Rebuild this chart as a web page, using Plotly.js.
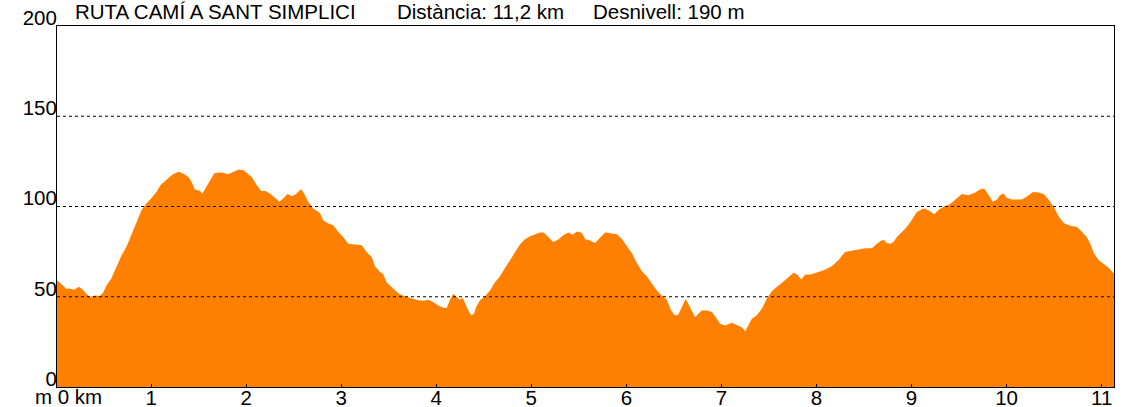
<!DOCTYPE html>
<html>
<head>
<meta charset="utf-8">
<script src="https://cdn.plot.ly/plotly-3.0.1.min.js"></script>
<style>html,body{margin:0;padding:0;background:#fff;}#chart{width:1142px;height:407px;}</style>
</head>
<body>
<div id="chart"></div>
<script>
// Distance along route (km)
const distKm = [0, 0.056, 0.109, 0.14, 0.19, 0.24, 0.27, 0.32, 0.355, 0.41, 0.46, 0.495, 0.53, 0.58, 0.635, 0.69, 0.74, 0.79, 0.846, 0.9, 0.95, 1.0, 1.056, 1.1, 1.18, 1.23, 1.29, 1.337, 1.39, 1.425, 1.46, 1.512, 1.54, 1.583, 1.62, 1.663, 1.705, 1.758, 1.81, 1.863, 1.915, 1.969, 2.0, 2.056, 2.11, 2.16, 2.197, 2.25, 2.3, 2.35, 2.39, 2.435, 2.484, 2.53, 2.576, 2.6, 2.653, 2.705, 2.776, 2.81, 2.864, 2.916, 2.97, 3.02, 3.074, 3.11, 3.16, 3.215, 3.267, 3.32, 3.355, 3.407, 3.44, 3.477, 3.53, 3.6, 3.67, 3.74, 3.81, 3.864, 3.916, 3.97, 4.02, 4.075, 4.11, 4.144, 4.18, 4.214, 4.25, 4.278, 4.3, 4.337, 4.37, 4.397, 4.42, 4.46, 4.51, 4.565, 4.618, 4.67, 4.72, 4.776, 4.83, 4.88, 4.934, 4.986, 5.04, 5.09, 5.13, 5.18, 5.23, 5.284, 5.336, 5.39, 5.435, 5.48, 5.53, 5.57, 5.607, 5.67, 5.7, 5.74, 5.776, 5.846, 5.9, 5.95, 6.0, 6.06, 6.11, 6.163, 6.215, 6.267, 6.32, 6.372, 6.425, 6.47, 6.512, 6.547, 6.583, 6.625, 6.66, 6.695, 6.723, 6.758, 6.793, 6.846, 6.9, 6.94, 6.986, 7.04, 7.11, 7.16, 7.215, 7.25, 7.284, 7.32, 7.37, 7.425, 7.477, 7.53, 7.582, 7.635, 7.688, 7.757, 7.793, 7.84, 7.88, 7.95, 8.02, 8.09, 8.16, 8.23, 8.3, 8.355, 8.425, 8.512, 8.583, 8.635, 8.688, 8.716, 8.74, 8.776, 8.81, 8.846, 8.9, 8.95, 9.0, 9.056, 9.11, 9.14, 9.196, 9.24, 9.284, 9.336, 9.4, 9.46, 9.53, 9.6, 9.67, 9.72, 9.765, 9.8, 9.856, 9.9, 9.93, 9.97, 10.0, 10.056, 10.11, 10.16, 10.21, 10.278, 10.337, 10.39, 10.44, 10.495, 10.55, 10.6, 10.67, 10.74, 10.794, 10.846, 10.88, 10.92, 10.97, 11.02, 11.074, 11.13];
// Elevation (m)
const elevM = [59.6, 57.2, 54.4, 54.6, 53.9, 55.6, 54.4, 51.7, 49.8, 50.7, 50.4, 52.2, 56.3, 60, 66.5, 73, 77.6, 84, 91.5, 98, 101.7, 104.4, 108.1, 111.9, 115.6, 117.8, 119.3, 118.3, 116.5, 113.7, 109.4, 108.7, 107.2, 110.9, 114.6, 118.3, 118.9, 118.7, 117.8, 119.3, 120.4, 120.2, 118.7, 116.5, 111.9, 108.5, 108.7, 107.2, 105, 102.6, 104.4, 106.9, 105.7, 107.2, 109.6, 108.1, 102.6, 98.9, 96.4, 92.4, 90.6, 89.6, 85.9, 83.1, 79.4, 79.1, 79.1, 78.5, 74.8, 72, 66.9, 63.7, 62.8, 58.1, 55.4, 52, 50.2, 49.3, 48, 47.8, 48.3, 47, 45.2, 43.9, 43.7, 48.3, 51.7, 49.8, 48.3, 49.4, 46.5, 42.4, 39.6, 40.6, 44.3, 48, 50.2, 53.5, 58.1, 61.3, 65.6, 70.2, 74.8, 78.9, 81.9, 83.5, 84.6, 85.6, 85.6, 83.1, 80.4, 81.7, 84.1, 85.6, 84.4, 86.1, 85.4, 81.7, 81.5, 79.8, 81.3, 83.5, 85.6, 85, 84.6, 82.2, 78.5, 73.9, 68.7, 64.1, 61.3, 57.2, 53.5, 50.7, 48.3, 42.4, 39.6, 40.2, 44.3, 48.9, 45.2, 41.5, 38.7, 40.6, 42.4, 42.4, 41.5, 38.7, 35, 34.1, 35.6, 34.4, 33.1, 30.9, 34.1, 37.8, 39.6, 43.3, 48.9, 53.1, 55.4, 57.6, 60, 63.3, 62.4, 59.6, 62.2, 62.4, 63.7, 65, 66.9, 70.2, 74.8, 75.4, 76.3, 76.9, 76.9, 79.4, 81.3, 81.3, 79.8, 79.3, 80.4, 83.1, 85.9, 88.7, 92.4, 97, 98.5, 98.9, 97.4, 95.7, 98, 99.8, 101.1, 103.9, 106.9, 106.3, 107.8, 109.4, 110, 107.2, 102.6, 103.9, 106.3, 107.2, 104.8, 103.9, 103.9, 103.9, 105.4, 108, 107.8, 106.9, 103.9, 99.8, 94.3, 90.9, 89.3, 88.7, 85.9, 82.8, 79.4, 73.9, 70.2, 68.3, 66.1, 62.8];
const xTickVals = [0, 1, 2, 3, 4, 5, 6, 7, 8, 9, 10, 11];
const xTickText = ['', '1', '2', '3', '4', '5', '6', '7', '8', '9', '10', '11'];
const yTickVals = [0, 50, 100, 150, 200];
const gridVals = [50, 100, 150];
const titleParts = ['RUTA CAMÍ A SANT SIMPLICI', 'Distància: 11,2 km', 'Desnivell: 190 m'];
const originLabel = 'm 0 km';

const FONT = 'Liberation Sans, Arial, sans-serif';
const FS = 20.5;

const trace = {
  x: distKm, y: elevM, type: 'scatter', mode: 'lines',
  fill: 'tozeroy', fillcolor: '#FF8000',
  line: {width: 0, color: '#FF8000'}, hoverinfo: 'skip'
};

const shapes = gridVals.map(v => ({
  type: 'line', xref: 'paper', x0: 0, x1: 1, yref: 'y', y0: v, y1: v,
  line: {color: '#000', width: 1, dash: '3px,3px'}, layer: 'above'
}));

const titleX = [73, 395, 591];
const annotations = titleParts.map((t, i) => ({
  text: t, xref: 'paper', x: (titleX[i] - 57) / 1057, xanchor: 'left',
  yref: 'paper', y: 1, yanchor: 'bottom', yshift: 1, showarrow: false,
  font: {family: FONT, size: FS, color: '#000'}
}));
annotations.push({
  text: originLabel, xref: 'paper', x: 0, xanchor: 'left', xshift: -24,
  yref: 'paper', y: 0, yanchor: 'top', yshift: 4, showarrow: false,
  font: {family: FONT, size: FS, color: '#000'}
});

const layout = {
  width: 1142, height: 407,
  margin: {l: 57, r: 28, t: 26, b: 20, pad: 0},
  paper_bgcolor: '#fff', plot_bgcolor: '#fff',
  showlegend: false,
  font: {family: FONT, size: FS, color: '#000'},
  xaxis: {
    range: [0.01, 11.13], tickvals: xTickVals, ticktext: xTickText,
    ticks: 'inside', ticklen: 3, tickwidth: 1, tickcolor: '#000',
    ticklabelstandoff: -8,
    showgrid: false, zeroline: false, showline: true, mirror: true,
    linecolor: '#000', linewidth: 1, layer: 'above traces',
    tickfont: {family: FONT, size: FS, color: '#000'}
  },
  yaxis: {
    range: [0, 200], tickvals: yTickVals, ticks: '',
    ticklabelposition: 'outside top', ticklabelshift: 6, ticklabelstandoff: -5,
    showgrid: false, zeroline: false, showline: true, mirror: true,
    linecolor: '#000', linewidth: 1, layer: 'above traces',
    tickfont: {family: FONT, size: FS, color: '#000'}
  },
  shapes: shapes,
  annotations: annotations
};

Plotly.newPlot('chart', [trace], layout, {staticPlot: true, displayModeBar: false});
</script>
</body>
</html>
